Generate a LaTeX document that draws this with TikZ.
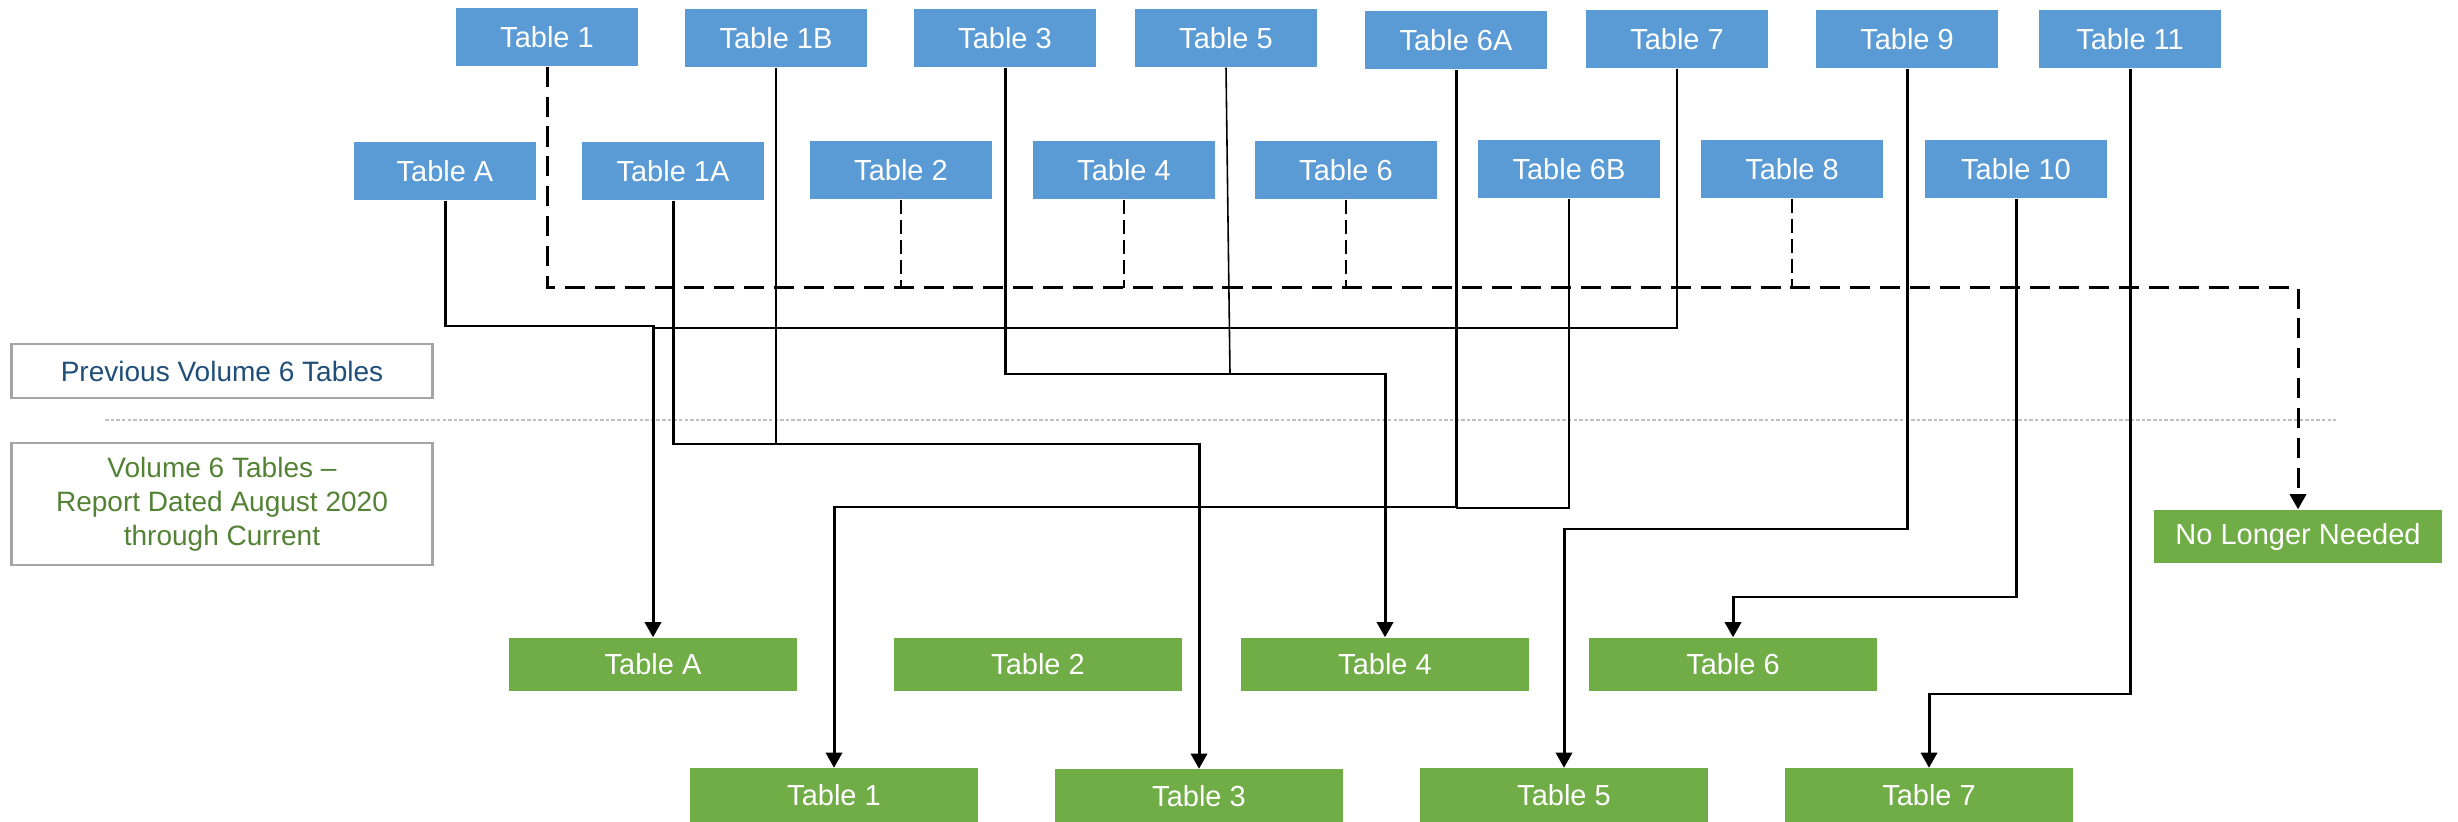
\documentclass[tikz,border=0pt]{standalone}
\usepackage{fontspec}
\setmainfont{Liberation Sans}
\usetikzlibrary{arrows.meta}
\definecolor{boxblue}{HTML}{5B9BD5}
\definecolor{boxgreen}{HTML}{70AD47}
\definecolor{txtblue}{HTML}{1F4E79}
\definecolor{txtgreen}{HTML}{548235}
\definecolor{framegray}{HTML}{A5A5A5}
\definecolor{dotgray}{HTML}{BFBFBF}
\tikzset{
  bluebox/.style={fill=boxblue, text=white, minimum width=1.82cm, minimum height=0.58cm, inner sep=0pt, font=\fontsize{8.25pt}{10pt}\selectfont},
  greenbox/.style={fill=boxgreen, text=white, minimum width=2.88cm, minimum height=0.53cm, inner sep=0pt, font=\fontsize{8.25pt}{10pt}\selectfont},
  labelbox/.style={draw=framegray, line width=0.75pt, minimum width=4.21cm, inner sep=0pt, align=center, font=\fontsize{7.97pt}{9.67pt}\selectfont},
  thickline/.style={line width=0.85pt, black},
  thinline/.style={line width=0.45pt, black},
  bigdash/.style={line width=0.85pt, black, dash pattern=on 5.7pt off 2.8pt},
  smalldash/.style={line width=0.45pt, black, dash pattern=on 4pt off 1.7pt},
  arr/.style={-{Triangle[length=4.3pt,width=4.6pt]}},
}
\begin{document}
\begin{tikzpicture}[x=0.01cm,y=-0.01cm]
\useasboundingbox (0,0) rectangle (2458,822);
% previous tables, top row
\node[bluebox] (b1)  at (547,37) {Table 1};
\node[bluebox] (b1B) at (776,38) {Table 1B};
\node[bluebox] (b3)  at (1005,38) {Table 3};
\node[bluebox] (b5)  at (1226,38) {Table 5};
\node[bluebox] (b6A) at (1456,40) {Table 6A};
\node[bluebox] (b7)  at (1677,39) {Table 7};
\node[bluebox] (b9)  at (1907,39) {Table 9};
\node[bluebox] (b11) at (2130,39) {Table 11};
% previous tables, second row
\node[bluebox] (bA)  at (445,171) {Table A};
\node[bluebox] (b1A) at (673,171) {Table 1A};
\node[bluebox] (b2)  at (901,170) {Table 2};
\node[bluebox] (b4)  at (1124,170) {Table 4};
\node[bluebox] (b6)  at (1346,170) {Table 6};
\node[bluebox] (b6B) at (1569,169) {Table 6B};
\node[bluebox] (b8)  at (1792,169) {Table 8};
\node[bluebox] (b10) at (2016,169) {Table 10};
% new tables
\node[greenbox] (gA) at (653,664.5) {Table A};
\node[greenbox] (g2) at (1038,664.5) {Table 2};
\node[greenbox] (g4) at (1385,664.5) {Table 4};
\node[greenbox] (g6) at (1733,664.5) {Table 6};
\node[greenbox] (g1) at (834,795) {Table 1};
\node[greenbox] (g3) at (1199,796) {Table 3};
\node[greenbox] (g5) at (1564,795) {Table 5};
\node[greenbox] (g7) at (1929,795) {Table 7};
\node[greenbox] (nln) at (2298,536.5) {No Longer Needed};
% legend boxes
\node[labelbox, text=txtblue, minimum height=0.54cm] (prev) at (222,371) {Previous Volume 6 Tables};
\node[labelbox, text=txtgreen, minimum height=1.22cm] (cur) at (222,504) {Volume 6 Tables --\\Report Dated August 2020\\through Current};
% separator
\draw[dotgray, line width=0.4pt, dash pattern=on 1pt off 0.6pt] (105,420) -- (2336,420);
% connectors
\draw[bigdash, arr] (b1.south) |- (2298,288) -- (nln.north);
\draw[smalldash] (b2.south) -- (901,288);
\draw[smalldash] (b4.south) -- (1124,288);
\draw[smalldash] (b6.south) -- (1346,288);
\draw[smalldash] (b8.south) -- (1792,288);
\draw[thickline, arr] (bA.south) |- (653,326) -- (gA.north);
\draw[thinline] (b7.south) |- (653,328);
\draw[thickline, arr] (b1A.south) |- (1199,444) -- (g3.north);
\draw[thinline] (b1B.south) -- (776,444);
\draw[thickline, arr] (b3.south) |- (1385,374) -- (g4.north);
\draw[thinline] (b5.south) -- (1230,374);
\draw[thickline, arr] (b6A.south) |- (834,507) -- (g1.north);
\draw[thinline] (b6B.south) |- (1456,508);
\draw[thickline, arr] (b9.south) |- (1564,529) -- (g5.north);
\draw[thickline, arr] (b10.south) |- (1733,597) -- (g6.north);
\draw[thickline, arr] (b11.south) |- (1929,694) -- (g7.north);
\end{tikzpicture}
\end{document}
